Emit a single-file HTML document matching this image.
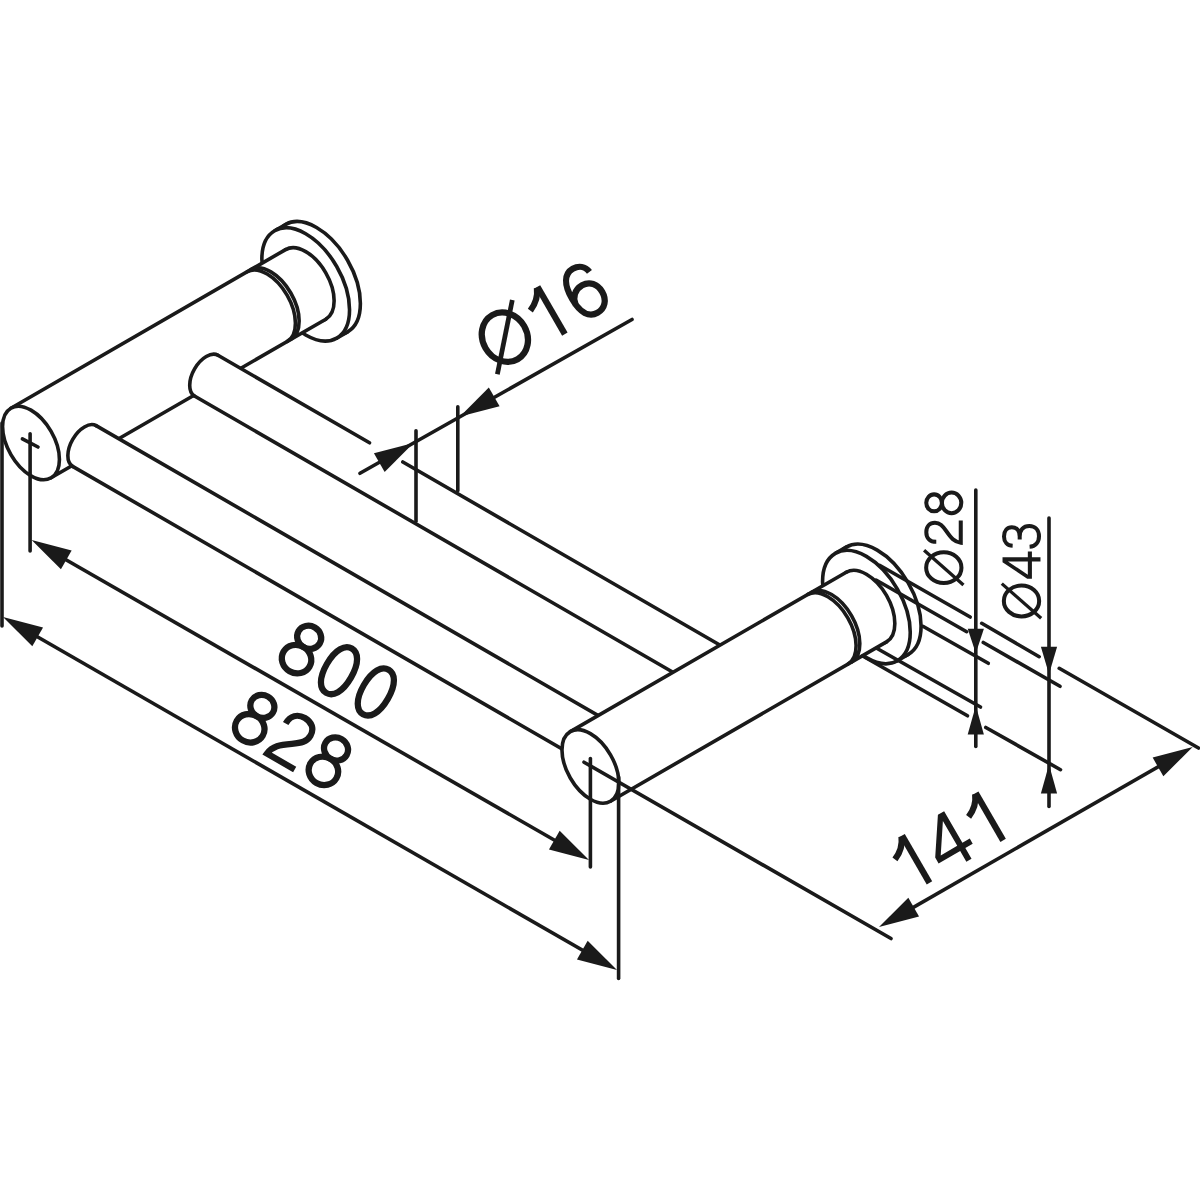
<!DOCTYPE html>
<html><head><meta charset="utf-8"><title>Drawing</title>
<style>html,body{margin:0;padding:0;background:#fff;}body{width:1200px;height:1200px;overflow:hidden;font-family:"Liberation Sans",sans-serif;}svg{display:block;}</style></head>
<body>
<svg width="1200" height="1200" viewBox="0 0 1200 1200" font-family="'Liberation Sans', sans-serif">
<rect width="1200" height="1200" fill="#fff"/>
<ellipse cx="316.53" cy="278.15" rx="62.00" ry="35.80" transform="rotate(60 316.53 278.15)" fill="#fff" stroke="#1a1a1a" stroke-width="3.60"/>
<polygon points="274.70,230.71 285.53,224.46 347.53,331.84 336.70,338.09" fill="#fff" stroke="none"/>
<line x1="274.70" y1="230.71" x2="285.53" y2="224.46" stroke="#1a1a1a" stroke-width="3.60" stroke-linecap="round"/>
<line x1="336.70" y1="338.09" x2="347.53" y2="331.84" stroke="#1a1a1a" stroke-width="3.60" stroke-linecap="round"/>
<ellipse cx="305.70" cy="284.40" rx="62.00" ry="35.80" transform="rotate(60 305.70 284.40)" fill="#fff" stroke="#1a1a1a" stroke-width="3.60"/>
<ellipse cx="305.70" cy="284.40" rx="40.20" ry="23.21" transform="rotate(60 305.70 284.40)" fill="#fff" stroke="#1a1a1a" stroke-width="3.60"/>
<polygon points="10.90,408.19 285.60,249.59 325.80,319.21 51.10,477.81" fill="#fff" stroke="none"/>
<line x1="10.90" y1="408.19" x2="285.60" y2="249.59" stroke="#1a1a1a" stroke-width="3.60" stroke-linecap="round"/>
<line x1="51.10" y1="477.81" x2="325.80" y2="319.21" stroke="#1a1a1a" stroke-width="3.60" stroke-linecap="round"/>
<path d="M247.15,271.79 A40.20 23.21 60 0 1 287.35,341.41" fill="none" stroke="#1a1a1a" stroke-width="3.60" stroke-linecap="round" stroke-linejoin="round"/>
<path d="M250.88,269.64 A40.20 23.21 60 0 1 291.08,339.26" fill="none" stroke="#1a1a1a" stroke-width="3.60" stroke-linecap="round" stroke-linejoin="round"/>
<ellipse cx="31.00" cy="443.00" rx="40.20" ry="23.21" transform="rotate(60 31.00 443.00)" fill="#fff" stroke="#1a1a1a" stroke-width="3.60"/>
<path d="M217.95,355.25 A23.50 13.57 -60 0 0 194.45,395.95 L721.86,700.45 L745.36,659.75 Z" fill="#fff" stroke="none" stroke-width="0.00" stroke-linecap="round" stroke-linejoin="round"/>
<path d="M217.95,355.25 A23.50 13.57 -60 0 0 194.45,395.95" fill="none" stroke="#1a1a1a" stroke-width="3.60" stroke-linecap="round" stroke-linejoin="round"/>
<line x1="194.45" y1="395.95" x2="721.86" y2="700.45" stroke="#1a1a1a" stroke-width="3.60" stroke-linecap="round"/>
<line x1="217.95" y1="355.25" x2="369.50" y2="442.75" stroke="#1a1a1a" stroke-width="3.60" stroke-linecap="round"/>
<line x1="402.85" y1="462.00" x2="745.36" y2="659.75" stroke="#1a1a1a" stroke-width="3.60" stroke-linecap="round"/>
<path d="M96.10,425.65 A23.50 13.57 -60 0 0 72.60,466.35 L624.26,784.85 L647.76,744.15 Z" fill="#fff" stroke="none" stroke-width="0.00" stroke-linecap="round" stroke-linejoin="round"/>
<path d="M96.10,425.65 A23.50 13.57 -60 0 0 72.60,466.35" fill="none" stroke="#1a1a1a" stroke-width="3.60" stroke-linecap="round" stroke-linejoin="round"/>
<line x1="72.60" y1="466.35" x2="624.26" y2="784.85" stroke="#1a1a1a" stroke-width="3.60" stroke-linecap="round"/>
<line x1="96.10" y1="425.65" x2="647.76" y2="744.15" stroke="#1a1a1a" stroke-width="3.60" stroke-linecap="round"/>
<ellipse cx="877.23" cy="600.80" rx="62.00" ry="35.80" transform="rotate(60 877.23 600.80)" fill="#fff" stroke="#1a1a1a" stroke-width="3.60"/>
<polygon points="835.40,553.36 846.23,547.11 908.23,654.49 897.40,660.74" fill="#fff" stroke="none"/>
<line x1="835.40" y1="553.36" x2="846.23" y2="547.11" stroke="#1a1a1a" stroke-width="3.60" stroke-linecap="round"/>
<line x1="897.40" y1="660.74" x2="908.23" y2="654.49" stroke="#1a1a1a" stroke-width="3.60" stroke-linecap="round"/>
<ellipse cx="866.40" cy="607.05" rx="62.00" ry="35.80" transform="rotate(60 866.40 607.05)" fill="#fff" stroke="#1a1a1a" stroke-width="3.60"/>
<ellipse cx="866.40" cy="607.05" rx="40.20" ry="23.21" transform="rotate(60 866.40 607.05)" fill="#fff" stroke="#1a1a1a" stroke-width="3.60"/>
<polygon points="570.30,731.59 846.30,572.24 886.50,641.86 610.50,801.21" fill="#fff" stroke="none"/>
<line x1="570.30" y1="731.59" x2="846.30" y2="572.24" stroke="#1a1a1a" stroke-width="3.60" stroke-linecap="round"/>
<line x1="610.50" y1="801.21" x2="886.50" y2="641.86" stroke="#1a1a1a" stroke-width="3.60" stroke-linecap="round"/>
<path d="M807.85,594.44 A40.20 23.21 60 0 1 848.05,664.06" fill="none" stroke="#1a1a1a" stroke-width="3.60" stroke-linecap="round" stroke-linejoin="round"/>
<path d="M811.57,592.29 A40.20 23.21 60 0 1 851.77,661.91" fill="none" stroke="#1a1a1a" stroke-width="3.60" stroke-linecap="round" stroke-linejoin="round"/>
<ellipse cx="590.40" cy="766.40" rx="40.20" ry="23.21" transform="rotate(60 590.40 766.40)" fill="#fff" stroke="#1a1a1a" stroke-width="3.60"/>
<line x1="22.40" y1="438.80" x2="38.00" y2="447.00" stroke="#1a1a1a" stroke-width="3.60" stroke-linecap="round"/>
<line x1="30.10" y1="433.80" x2="30.10" y2="551.00" stroke="#1a1a1a" stroke-width="3.60" stroke-linecap="round"/>
<line x1="584.00" y1="762.20" x2="891.00" y2="938.50" stroke="#1a1a1a" stroke-width="3.60" stroke-linecap="round"/>
<line x1="590.40" y1="758.50" x2="590.40" y2="867.00" stroke="#1a1a1a" stroke-width="3.60" stroke-linecap="round"/>
<line x1="2.00" y1="423.00" x2="2.00" y2="626.00" stroke="#1a1a1a" stroke-width="3.60" stroke-linecap="round"/>
<line x1="618.60" y1="777.00" x2="618.60" y2="978.40" stroke="#1a1a1a" stroke-width="3.60" stroke-linecap="round"/>
<line x1="42.01" y1="545.97" x2="578.59" y2="854.03" stroke="#1a1a1a" stroke-width="3.60" stroke-linecap="butt"/>
<polygon points="31.60,540.00 71.64,550.59 60.94,569.24" fill="#1a1a1a"/>
<polygon points="589.00,860.00 548.96,849.41 559.66,830.76" fill="#1a1a1a"/>
<line x1="13.40" y1="622.98" x2="606.60" y2="964.02" stroke="#1a1a1a" stroke-width="3.60" stroke-linecap="butt"/>
<polygon points="3.00,617.00 43.04,627.62 32.32,646.26" fill="#1a1a1a"/>
<polygon points="617.00,970.00 576.96,959.38 587.68,940.74" fill="#1a1a1a"/>
<line x1="889.41" y1="921.13" x2="1182.29" y2="752.97" stroke="#1a1a1a" stroke-width="3.60" stroke-linecap="butt"/>
<polygon points="879.00,927.10 908.34,897.86 919.04,916.51" fill="#1a1a1a"/>
<polygon points="1192.70,747.00 1163.36,776.24 1152.66,757.59" fill="#1a1a1a"/>
<line x1="416.00" y1="430.70" x2="416.00" y2="521.30" stroke="#1a1a1a" stroke-width="3.60" stroke-linecap="round"/>
<line x1="457.80" y1="406.70" x2="457.80" y2="490.70" stroke="#1a1a1a" stroke-width="3.60" stroke-linecap="round"/>
<line x1="632.00" y1="319.50" x2="360.00" y2="473.30" stroke="#1a1a1a" stroke-width="3.60" stroke-linecap="round"/>
<polygon points="460.00,416.60 488.83,387.54 499.58,406.16" fill="#1a1a1a"/>
<polygon points="413.50,442.90 384.67,471.96 373.92,453.34" fill="#1a1a1a"/>
<line x1="880.00" y1="565.50" x2="970.20" y2="617.00" stroke="#1a1a1a" stroke-width="3.60" stroke-linecap="round"/>
<line x1="981.70" y1="623.30" x2="1039.20" y2="656.70" stroke="#1a1a1a" stroke-width="3.60" stroke-linecap="round"/>
<line x1="1059.20" y1="668.30" x2="1198.50" y2="748.00" stroke="#1a1a1a" stroke-width="3.60" stroke-linecap="round"/>
<line x1="876.00" y1="580.04" x2="966.70" y2="631.70" stroke="#1a1a1a" stroke-width="3.60" stroke-linecap="round"/>
<line x1="983.30" y1="642.50" x2="1060.00" y2="686.30" stroke="#1a1a1a" stroke-width="3.60" stroke-linecap="round"/>
<line x1="922.90" y1="626.30" x2="988.30" y2="663.30" stroke="#1a1a1a" stroke-width="3.60" stroke-linecap="round"/>
<line x1="876.70" y1="648.30" x2="980.50" y2="707.00" stroke="#1a1a1a" stroke-width="3.60" stroke-linecap="round"/>
<line x1="862.70" y1="656.00" x2="967.50" y2="715.80" stroke="#1a1a1a" stroke-width="3.60" stroke-linecap="round"/>
<line x1="985.80" y1="727.50" x2="1060.50" y2="769.70" stroke="#1a1a1a" stroke-width="3.60" stroke-linecap="round"/>
<line x1="975.80" y1="490.00" x2="975.80" y2="746.50" stroke="#1a1a1a" stroke-width="3.60" stroke-linecap="round"/>
<polygon points="975.80,653.30 967.70,628.80 983.90,628.80" fill="#1a1a1a"/>
<polygon points="975.80,705.80 983.90,734.40 967.70,734.40" fill="#1a1a1a"/>
<line x1="1049.00" y1="518.00" x2="1049.00" y2="806.50" stroke="#1a1a1a" stroke-width="3.60" stroke-linecap="round"/>
<polygon points="1049.00,674.20 1040.90,646.70 1057.10,646.70" fill="#1a1a1a"/>
<polygon points="1049.00,764.50 1057.10,793.50 1040.90,793.50" fill="#1a1a1a"/>
<g transform="translate(339.00 670.70) rotate(30.0) scale(0.0765 -0.0765) translate(-834.0 -358)" fill="none" stroke="#1a1a1a" stroke-width="82" stroke-linecap="butt" stroke-linejoin="miter"><g transform="translate(0 0)"><ellipse cx="278" cy="541" rx="160" ry="148"/><ellipse cx="278" cy="211" rx="196" ry="183"/></g><g transform="translate(556 0)"><path d="M459 358 C 459 579 379 693 278 693 C 177 693 97 579 97 358 C 97 137 177 23 278 23 C 379 23 459 137 459 358 Z"/></g><g transform="translate(1112 0)"><path d="M459 358 C 459 579 379 693 278 693 C 177 693 97 579 97 358 C 97 137 177 23 278 23 C 379 23 459 137 459 358 Z"/></g></g>
<g transform="translate(292.20 739.80) rotate(30.0) scale(0.0765 -0.0765) translate(-834.0 -358)" fill="none" stroke="#1a1a1a" stroke-width="82" stroke-linecap="butt" stroke-linejoin="miter"><g transform="translate(0 0)"><ellipse cx="278" cy="541" rx="160" ry="148"/><ellipse cx="278" cy="211" rx="196" ry="183"/></g><g transform="translate(556 0)"><path d="M98 500 C 98 620 170 688 280 688 C 385 688 458 625 458 525 C 458 430 400 380 300 310 C 170 220 95 160 82 38 L 500 38"/></g><g transform="translate(1112 0)"><ellipse cx="278" cy="541" rx="160" ry="148"/><ellipse cx="278" cy="211" rx="196" ry="183"/></g></g>
<g transform="translate(947.50 840.90) rotate(-30.0) scale(0.0765 -0.0765) translate(-834.0 -358)" fill="none" stroke="#1a1a1a" stroke-width="82" stroke-linecap="butt" stroke-linejoin="miter"><g transform="translate(0 0)"><path d="M355 0 L355 716"/><path d="M342 708 Q 280 560 118 492"/></g><g transform="translate(556 0)"><path fill="#1a1a1a" stroke="none" fill-rule="evenodd" d="M356 0 L434 0 L434 161.5 L545 161.5 L545 238.5 L434 238.5 L434 716 L340 716 L30 250 L30 161.5 L356 161.5 Z M356 238.5 L356 613.6 L106.5 238.5 Z"/></g><g transform="translate(1112 0)"><path d="M355 0 L355 716"/><path d="M342 708 Q 280 560 118 492"/></g></g>
<g transform="translate(541.70 315.90) rotate(-30.0) scale(0.0765 -0.0765) translate(-945.0 -358)" fill="none" stroke="#1a1a1a" stroke-width="82" stroke-linecap="butt" stroke-linejoin="miter"><g transform="translate(0 0)"><ellipse cx="389" cy="358" rx="291" ry="333"/><path d="M62 -13 L716 730" stroke-width="62"/></g><g transform="translate(733 0)"><path d="M355 0 L355 716"/><path d="M342 708 Q 280 560 118 492"/></g><g transform="translate(1312 0)"><path d="M462 545 C 450 635 380 688 292 688 C 165 688 88 570 88 350 C 88 140 160 28 285 28 C 400 28 475 115 475 235 C 475 355 400 440 290 440 C 185 440 100 370 90 260"/></g></g>
<g transform="translate(943.80 538.20) rotate(-90.0) scale(0.0530 -0.0530) translate(-945.0 -358)" fill="none" stroke="#1a1a1a" stroke-width="76" stroke-linecap="butt" stroke-linejoin="miter"><g transform="translate(0 0)"><ellipse cx="389" cy="358" rx="291" ry="333"/><path d="M62 -13 L716 730" stroke-width="62"/></g><g transform="translate(778 0)"><path d="M98 500 C 98 620 170 688 280 688 C 385 688 458 625 458 525 C 458 430 400 380 300 310 C 170 220 95 160 82 38 L 500 38"/></g><g transform="translate(1334 0)"><ellipse cx="278" cy="541" rx="160" ry="148"/><ellipse cx="278" cy="211" rx="196" ry="183"/></g></g>
<g transform="translate(1021.50 571.50) rotate(-90.0) scale(0.0530 -0.0530) translate(-945.0 -358)" fill="none" stroke="#1a1a1a" stroke-width="76" stroke-linecap="butt" stroke-linejoin="miter"><g transform="translate(0 0)"><ellipse cx="389" cy="358" rx="291" ry="333"/><path d="M62 -13 L716 730" stroke-width="62"/></g><g transform="translate(778 0)"><path fill="#1a1a1a" stroke="none" fill-rule="evenodd" d="M356 0 L434 0 L434 161.5 L545 161.5 L545 238.5 L434 238.5 L434 716 L340 716 L30 250 L30 161.5 L356 161.5 Z M356 238.5 L356 613.6 L106.5 238.5 Z"/></g><g transform="translate(1334 0)"><path d="M95 525 C 100 625 170 688 272 688 C 375 688 445 630 445 540 C 445 445 375 392 270 392 L 215 392 M 270 392 C 395 392 470 325 470 210 C 470 100 390 28 275 28 C 160 28 85 95 78 205"/></g></g>
</svg>
</body></html>
